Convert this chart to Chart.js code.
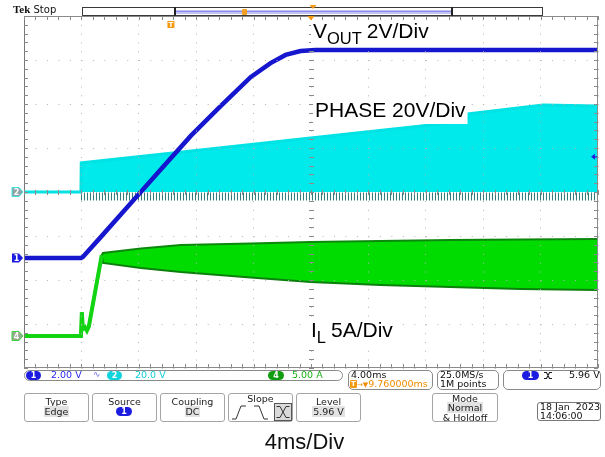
<!DOCTYPE html>
<html>
<head>
<meta charset="utf-8">
<title>Soft-start waveforms</title>
<script src="https://cdn.jsdelivr.net/npm/chart.js@4.4.1/dist/chart.umd.min.js"></script>
<style>
  html, body { margin: 0; padding: 0; background: #fff; }
  #screen { position: relative; width: 605px; height: 457px; overflow: hidden; background: #fff;
            font-family: "DejaVu Sans", sans-serif; color: #222; }
  #screen canvas { position: absolute; left: 0; top: 0; }
  .a { position: absolute; white-space: pre; }
  .ro { font-size: 9.5px; line-height: 10px; }
  .box { position: absolute; box-sizing: border-box; border: 1px solid #8a8a8a; border-radius: 5px; }
  .pill { position: absolute; height: 9px; border-radius: 5px; color: #fff;
          font: bold 8px/9px "DejaVu Sans", sans-serif; text-align: center; }
  .btn { position: absolute; top: 393px; height: 29px; width: 66px; box-sizing: border-box;
         border: 1px solid #a5a5a5; border-radius: 3px; text-align: center;
         font-size: 9.5px; line-height: 9.6px; padding-top: 3px; }
  .hl { background: #e2e2e2; padding: 0 1px; }
</style>
</head>
<body>
<div id="screen">
  <canvas id="scope" width="605" height="457"></canvas>

  <!-- header: run state and record view -->
  <div class="a" style="left:13px;top:3px;font:10px/12px 'DejaVu Sans',sans-serif;color:#111"><b style="font-family:'Liberation Serif',serif;font-size:11px">Tek</b> Stop</div>
  <div class="a" style="left:82px;top:7px;width:461px;height:9px;box-sizing:border-box;border:1px solid #3a3a3a;background:#fff"></div>
  <div class="a" style="left:175px;top:10px;width:277px;height:4px;background:#c4c4f4"></div>
  <div class="a" style="left:175px;top:11px;width:277px;height:1px;background:#8a8ae8"></div>
  <div class="a" style="left:174px;top:7px;width:2px;height:9px;background:#222"></div>
  <div class="a" style="left:451px;top:7px;width:2px;height:9px;background:#222"></div>
  <svg class="a" style="left:0;top:0" width="605" height="30">
    <rect x="242" y="9" width="5" height="6" rx="1" fill="#f4a020"/>
    <path d="M309.5 5 L316.5 5 L313 9 Z" fill="#f49a10"/>
  </svg>

  <!-- vertical / horizontal readouts -->
  <div class="box" style="left:24px;top:370px;width:319px;height:11px;border-radius:6px"></div>
  <div class="pill" style="left:26px;top:371px;width:15px;background:#1c1ce0">1</div>
  <div class="a ro" style="left:51px;top:370px;color:#2a2af0">2.00 V</div>
  <div class="a" style="left:93px;top:369px;font-size:9px;color:#7070f0">∿</div>
  <div class="pill" style="left:107px;top:371px;width:15px;background:#10d4dc">2</div>
  <div class="a ro" style="left:135px;top:370px;color:#10ccd6">20.0 V</div>
  <div class="pill" style="left:268px;top:371px;width:16px;background:#119c11">4</div>
  <div class="a ro" style="left:292px;top:370px;color:#16b016">5.00 A</div>

  <div class="box" style="left:348px;top:370px;width:85px;height:20px"></div>
  <div class="a ro" style="left:351px;top:370px;color:#111">4.00ms</div>
  <div class="a" style="left:350px;top:380px;width:7px;height:8px;background:#f49a10;border-radius:1px;color:#fff;font:bold 7px/8px 'DejaVu Sans',sans-serif;text-align:center">T</div>
  <div class="a ro" style="left:357px;top:379px;color:#f08c00"><span style="font-size:7px">→▼</span>9.760000ms</div>

  <div class="box" style="left:437px;top:370px;width:62px;height:20px"></div>
  <div class="a ro" style="left:440px;top:370px;color:#111">25.0MS/s</div>
  <div class="a ro" style="left:440px;top:379px;color:#111">1M points</div>

  <div class="box" style="left:503px;top:370px;width:98px;height:20px"></div>
  <div class="pill" style="left:522px;top:371px;width:17px;background:#1c1ce0">1</div>
  <svg class="a" style="left:543px;top:371px" width="10" height="9">
    <path d="M1 1.5 H3.5 L6.5 7.5 H9 M1 7.5 H3.5 L6.5 1.5 H9" fill="none" stroke="#222" stroke-width="1.1"/>
  </svg>
  <div class="a ro" style="left:569px;top:370px;color:#111">5.96 V</div>

  <!-- trigger menu -->
  <div class="btn" style="left:24px;width:65px"><div>Type</div><div><span class="hl">Edge</span></div></div>
  <div class="btn" style="left:92px;width:65px"><div>Source</div></div>
  <div class="pill" style="left:116px;top:407px;width:16px;background:#1c1ce0">1</div>
  <div class="btn" style="left:160px;width:65px"><div>Coupling</div><div><span class="hl">DC</span></div></div>
  <div class="btn" style="left:228px;width:65px;padding-top:0"><div style="line-height:10px">Slope</div></div>
  <svg class="a" style="left:228px;top:393px" width="66" height="29">
    <path d="M4 26 H8 L13 13 H18" fill="none" stroke="#333" stroke-width="1"/>
    <path d="M26 13 H31 L36 26 H40" fill="none" stroke="#333" stroke-width="1"/>
    <rect x="46.5" y="10.5" width="17" height="17" fill="#dadada" stroke="#555" stroke-width="1"/>
    <path d="M48.5 13.5 H52 L58 24.5 H61.5 M48.5 24.5 H52 L58 13.5 H61.5" fill="none" stroke="#333" stroke-width="1"/>
  </svg>
  <div class="btn" style="left:296px;width:65px"><div>Level</div><div><span class="hl">5.96 V</span></div></div>
  <div class="btn" style="left:432px;width:66px;padding-top:0;line-height:9.3px"><div>Mode</div><div><span class="hl">Normal</span></div><div>&amp; Holdoff</div></div>
  <div class="box" style="left:537px;top:402px;width:64px;height:19px;border-radius:3px;border-color:#777"></div>
  <div class="a" style="left:540px;top:402px;font-size:9.5px;line-height:9px;color:#111">18 Jan  2023
14:06:00</div>

  <div class="a" style="left:0;width:605px;top:430px;text-align:center;font:22px/24px 'Liberation Sans',Arial,sans-serif;color:#111;padding-left:2px">4ms/Div</div>
</div>

<script>
// ---- acquisition settings -------------------------------------------------
// 10 horizontal divisions at 4 ms/div; time axis runs 0..40 ms across the screen,
// trigger sits 9.76 ms left of the centre graticule.
const timeStart = 0;
const timeEnd = 40;
const msPerDiv = 4;
const triggerTime = 10.24;

// ---- CH1: output voltage (V) ---------------------------------------------
const voutTime  = [0, 3.97, 4.10, 5.36, 7.44, 9.53, 11.62, 13.70, 15.79, 17.18, 18.23, 19.27, 20.31, 40];
const voutVolts = [0, 0,    0.05, 0.96, 2.49, 4.02, 5.55,  6.90,  8.22,  8.86,  9.23,  9.41,  9.45,  9.45];

// ---- CH2: switch node, upper envelope (V) --------------------------------
const phaseTime  = [0, 3.97, 3.99, 12.31, 19.97, 30.90, 30.97, 36.17, 40];
const phaseVolts = [0, 0,    13.2, 19.1,  24.5,  32.3,  35.5,  39.5,  39.1];
// negative ringing below ground while switching
const phaseRingTime  = [3.97, 40];
const phaseRingVolts = [-2.0, -2.0];

// ---- CH4: inductor current envelope (A) ----------------------------------
const ilTime  = [0, 3.97, 4.03, 4.10, 4.24, 4.38, 4.52, 5.42, 5.50, 8.14, 10.92, 15.79, 19.97, 24.83, 29.70, 34.57, 40];
const ilUpper = [0, 0,    2.7,  0.8,  1.0,  0.6,  1.1,  9.2,  9.43, 9.94, 10.34, 10.51, 10.68, 10.80, 10.91, 10.97, 11.02];
const ilLower = [0, 0,    2.7,  0.8,  1.0,  0.6,  1.1,  9.2,  8.30, 7.73, 7.27,  6.65,  6.14,  5.80,  5.57,  5.34,  5.23];
const ilBandStart = 5.42;

// ---- vertical settings: volts (or amps) per division and ground position (div from centre)
const ch1 = { perDiv: 2,  ground: -1.5 };
const ch2 = { perDiv: 20, ground: 0 };
const ch4 = { perDiv: 5,  ground: -3.2727 };
const trigMarkLevel = 4.6;   // CH1 level marker on the right edge

const rangeOf = ch => ({ min: (-4 - ch.ground) * ch.perDiv, max: (4 - ch.ground) * ch.perDiv });
const pts = (t, v) => t.map((x, i) => ({ x, y: v[i] }));

const GRID = '#b4b4b4';

// graticule frame, minor ticks, channel markers and trace captions
const scopeDecor = {
  id: 'scopeDecor',
  afterDraw(chart) {
    const { ctx, chartArea: a, scales } = chart;
    const xs = scales.x, ys = scales.y2;
    const cx = xs.getPixelForValue((timeStart + timeEnd) / 2);
    const cy = ys.getPixelForValue(0);
    ctx.save();

    // frame
    ctx.strokeStyle = '#8a8a8a';
    ctx.lineWidth = 1;
    ctx.strokeRect(a.left + 0.5, a.top + 0.5, a.right - a.left - 1, a.bottom - a.top - 1);
    ctx.strokeStyle = '#777';
    ctx.beginPath(); ctx.moveTo(a.left + 0.5, a.top); ctx.lineTo(a.left + 0.5, a.bottom); ctx.stroke();

    // minor ticks on the frame and on the centre cross
    ctx.strokeStyle = '#8a8a8a';
    ctx.beginPath();
    const minorT = msPerDiv / 5;
    for (let t = timeStart; t <= timeEnd + 1e-6; t += minorT) {
      const px = Math.round(xs.getPixelForValue(t)) + 0.5;
      ctx.moveTo(px, a.top); ctx.lineTo(px, a.top + 4);
      ctx.moveTo(px, a.bottom); ctx.lineTo(px, a.bottom - 4);
      ctx.moveTo(px, cy - 2); ctx.lineTo(px, cy + 3);
    }
    const minorV = ch2.perDiv / 5;
    for (let v = ys.min; v <= ys.max + 1e-6; v += minorV) {
      const py = Math.round(ys.getPixelForValue(v)) + 0.5;
      ctx.moveTo(a.left, py); ctx.lineTo(a.left + 4, py);
      ctx.moveTo(a.right, py); ctx.lineTo(a.right - 4, py);
      ctx.moveTo(cx - 2, py); ctx.lineTo(cx + 3, py);
    }
    ctx.stroke();

    // expansion point and trigger position markers
    ctx.fillStyle = '#f49a10';
    ctx.beginPath();
    ctx.moveTo(cx - 3.5, a.top); ctx.lineTo(cx + 3.5, a.top); ctx.lineTo(cx, a.top + 4.5); ctx.closePath();
    ctx.fill();
    const tx = xs.getPixelForValue(triggerTime);
    ctx.fillRect(tx - 3.5, a.top + 5, 7, 7);
    ctx.fillStyle = '#fff';
    ctx.font = 'bold 7px "DejaVu Sans"';
    ctx.textAlign = 'center'; ctx.textBaseline = 'middle';
    ctx.fillText('T', tx, a.top + 8.7);

    // channel ground markers
    const marker = (y, fill, stroke, label, txt) => {
      const r = a.left - 1, l = a.left - 12;
      ctx.beginPath();
      ctx.moveTo(l, y - 4.5); ctx.lineTo(r - 4, y - 4.5); ctx.lineTo(r, y);
      ctx.lineTo(r - 4, y + 4.5); ctx.lineTo(l, y + 4.5); ctx.closePath();
      ctx.fillStyle = fill; ctx.fill();
      if (stroke) { ctx.strokeStyle = stroke; ctx.lineWidth = 1; ctx.stroke(); }
      ctx.fillStyle = txt; ctx.font = 'bold 8px "DejaVu Sans"';
      ctx.textAlign = 'center'; ctx.textBaseline = 'middle';
      ctx.fillText(label, l + 4.5, y + 0.5);
    };
    marker(ys.getPixelForValue(0), '#8fa3a3', '#3fe0e6', '2', '#fff');
    marker(scales.y1.getPixelForValue(0), '#1c1ce0', null, '1', '#fff');
    marker(scales.y4.getPixelForValue(0), '#93ab93', '#40d040', '4', '#fff');

    // CH1 level marker on the right edge
    const ty = scales.y1.getPixelForValue(trigMarkLevel);
    ctx.fillStyle = '#2020e0';
    ctx.beginPath();
    ctx.moveTo(a.right - 7, ty); ctx.lineTo(a.right - 3, ty - 3); ctx.lineTo(a.right - 3, ty + 3); ctx.closePath();
    ctx.fill();
    ctx.fillRect(a.right - 4, ty - 0.5, 3, 1.2);

    // trace captions
    const caption = (x, base, parts) => {
      ctx.textAlign = 'left'; ctx.textBaseline = 'alphabetic';
      let w = 0;
      parts.forEach(p => { ctx.font = p.size + 'px "Liberation Sans"'; w += ctx.measureText(p.text).width + (p.gap || 0); });
      ctx.fillStyle = '#fff';
      ctx.fillRect(x - 2, base - 18, w + 4, 25);
      ctx.fillStyle = '#000';
      let px = x;
      parts.forEach(p => {
        ctx.font = p.size + 'px "Liberation Sans"';
        px += (p.gap || 0);
        ctx.fillText(p.text, px, base + (p.drop || 0));
        px += ctx.measureText(p.text).width;
      });
    };
    caption(313, 38, [{ text: 'V', size: 21 }, { text: 'OUT', size: 16.5, drop: 5.5 }, { text: '2V/Div', size: 21, gap: 5 }]);
    caption(315, 117, [{ text: 'PHASE 20V/Div', size: 21 }]);
    caption(311, 337, [{ text: 'I', size: 21 }, { text: 'L', size: 16.5, drop: 5.5 }, { text: '5A/Div', size: 21, gap: 5 }]);

    ctx.restore();
  }
};

const r1 = rangeOf(ch1), r2 = rangeOf(ch2), r4 = rangeOf(ch4);

new Chart(document.getElementById('scope'), {
  type: 'line',
  data: {
    datasets: [
      {
        label: 'VOUT',
        data: pts(voutTime, voutVolts),
        yAxisID: 'y1',
        borderColor: '#1616cf',
        borderWidth: 4.5,
        fill: false
      },
      {
        label: 'PHASE',
        data: pts(phaseTime, phaseVolts),
        yAxisID: 'y2',
        borderColor: '#00e2e4',
        backgroundColor: '#00eaec',
        borderWidth: 3,
        fill: { value: 0 }
      },
      {
        label: 'PHASE ringing',
        data: pts(phaseRingTime, phaseRingVolts),
        yAxisID: 'y2',
        borderColor: '#2f7a7a',
        borderWidth: 8,
        borderDash: [1, 2],
        fill: false
      },
      {
        label: 'IL',
        data: pts(ilTime, ilUpper),
        yAxisID: 'y4',
        borderColor: '#12d412',
        borderWidth: 4,
        segment: {
          borderColor: c => c.p0.parsed.x >= ilBandStart ? '#0c880c' : '#12d412',
          borderWidth: c => c.p0.parsed.x >= ilBandStart ? 2 : 4
        },
        fill: false
      },
      {
        label: 'IL valley',
        data: pts(ilTime, ilLower),
        yAxisID: 'y4',
        borderColor: '#12d412',
        backgroundColor: '#00dc00',
        borderWidth: 3,
        segment: {
          borderColor: c => c.p0.parsed.x >= ilBandStart ? '#0c800c' : '#12d412',
          borderWidth: c => c.p0.parsed.x >= ilBandStart ? 2 : 3
        },
        fill: '-1'
      }
    ]
  },
  options: {
    responsive: false,
    animation: false,
    events: [],
    layout: { padding: { left: 24, right: 7, top: 16, bottom: 89 } },
    plugins: { legend: { display: false }, tooltip: { enabled: false } },
    elements: { point: { radius: 0 }, line: { tension: 0, borderCapStyle: 'butt' } },
    scales: {
      x: {
        type: 'linear', min: timeStart, max: timeEnd,
        ticks: { display: false, stepSize: msPerDiv },
        grid: { color: GRID, drawTicks: false, lineWidth: 1, z: 1 },
        border: { display: false, dash: [1, 7.81] }
      },
      y2: {
        type: 'linear', position: 'left', min: r2.min, max: r2.max,
        ticks: { display: false, stepSize: ch2.perDiv },
        grid: { color: GRID, drawTicks: false, lineWidth: 1, z: 1 },
        border: { display: false, dash: [1, 10.48] }
      },
      y1: { display: false, min: r1.min, max: r1.max },
      y4: { display: false, min: r4.min, max: r4.max }
    }
  },
  plugins: [scopeDecor]
});
</script>
</body>
</html>
